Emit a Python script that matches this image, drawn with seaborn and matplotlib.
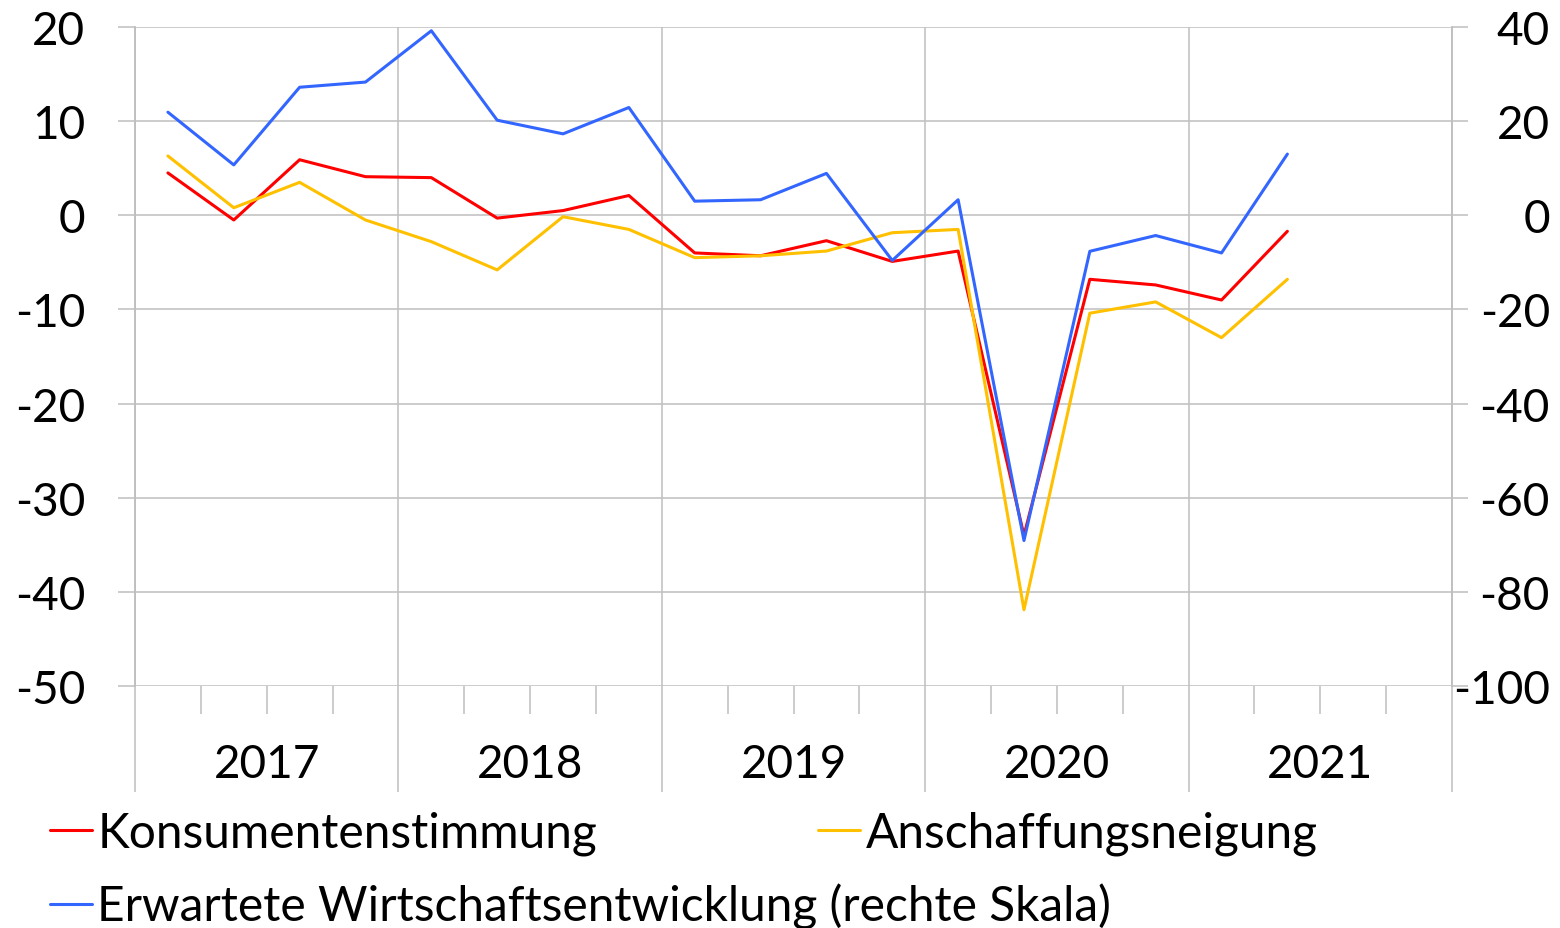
import numpy as np
import pandas as pd
import seaborn as sns
import matplotlib
matplotlib.use("Agg")
import matplotlib.pyplot as plt
from matplotlib.lines import Line2D

# quarterly values 2017Q1 - 2021Q2
quarters = [f"{y}Q{q}" for y in range(2017, 2022) for q in range(1, 5)][:18]
konsum = [4.5, -0.5, 5.9, 4.1, 4.0, -0.3, 0.5, 2.1, -4.0, -4.3, -2.7, -4.9, -3.8, -34.0, -6.8, -7.4, -9.0, -1.7]
anschaff = [6.3, 0.8, 3.5, -0.5, -2.8, -5.8, -0.15, -1.5, -4.5, -4.3, -3.8, -1.85, -1.5, -41.9, -10.4, -9.2, -13.0, -6.8]
wirtschaft = [21.9, 10.7, 27.2, 28.3, 39.2, 20.2, 17.3, 22.9, 3.0, 3.3, 8.9, -9.6, 3.3, -69.1, -7.65, -4.3, -8.0, 13.0]
years = ["2017", "2018", "2019", "2020", "2021"]

lab_k = "Konsumentenstimmung"
lab_a = "Anschaffungsneigung"
lab_w = "Erwartete Wirtschaftsentwicklung (rechte Skala)"

df = pd.DataFrame({"quarter": quarters, "konsum": konsum,
                   "anschaff": anschaff, "wirtschaft": wirtschaft})
df["pos"] = np.arange(len(df)) + 0.5  # centre of each quarter slot

sns.set_theme(style="white")
plt.rcParams['font.family'] = ['Lato', 'DejaVu Sans']
plt.rcParams['axes.unicode_minus'] = False
plt.rcParams['text.color'] = 'black'
plt.rcParams['xtick.color'] = 'black'
plt.rcParams['ytick.color'] = 'black'

RED = "#FF0000"
YEL = "#FFC000"
BLU = "#3366FF"
GRID = "#BFBFBF"
FS = 33
FS_LEG = 34.5
LW = 2.2

fig = plt.figure(figsize=(15.6, 9.29), dpi=100)
ax = fig.add_axes([135/1560, 1-687/929, (1452-135)/1560, (687-28)/929])
ax2 = ax.twinx()

sns.lineplot(data=df, x="pos", y="konsum", ax=ax, color=RED, lw=LW)
sns.lineplot(data=df, x="pos", y="anschaff", ax=ax, color=YEL, lw=LW)
sns.lineplot(data=df, x="pos", y="wirtschaft", ax=ax2, color=BLU, lw=LW)

ax.set_xlim(0, 20)
ax.set_ylim(-50, 20)
ax2.set_ylim(-100, 40)
ax.set_yticks(np.arange(-50, 21, 10))
ax2.set_yticks(np.arange(-100, 41, 20))

# x axis: year boundaries as long major ticks, quarters as minor ticks
ax.set_xticks(np.arange(0, 21, 4))
ax.set_xticklabels([])
minor = [p for p in range(1, 20) if p % 4 != 0]
ax.set_xticks(minor, minor=True)
ax.set_xticklabels([years[(p - 2) // 4] if p % 4 == 2 else "" for p in minor], minor=True)
ax.tick_params(axis="x", which="major", bottom=True, length=76, width=1.1, color=GRID, direction="out")
ax.tick_params(axis="x", which="minor", bottom=True, length=20, width=1.1, color=GRID, direction="out",
               pad=21, labelsize=FS, labelcolor="black")
ax.tick_params(axis="y", left=True, length=12, width=1.1, color=GRID, pad=24, labelsize=FS,
               labelcolor="black")
ax2.tick_params(axis="y", right=True, length=11.5, width=1.1, color=GRID, pad=59, labelsize=FS,
                labelcolor="black")
for t in ax2.get_yticklabels():
    t.set_horizontalalignment("right")

ax.grid(True, which="major", axis="both", color=GRID, lw=1.1)
ax2.grid(False)
ax.set_xlabel("")
ax.set_ylabel("")
ax2.set_ylabel("")
for a in (ax, ax2):
    for s in ("top", "bottom"):
        a.spines[s].set_visible(False)
    for s in ("left", "right"):
        a.spines[s].set_color(GRID)
        a.spines[s].set_linewidth(1.1)

# legend entries placed like the original (two on first row, one on second)
entries = [(lab_k, RED, 50, 834), (lab_a, YEL, 818, 834), (lab_w, BLU, 50, 907)]
for lab, col, px, py in entries:
    h = Line2D([], [], color=col, lw=LW)
    fig.legend([h], [lab], loc="center left", bbox_to_anchor=(px/1560, 1-py/929),
               frameon=False, fontsize=FS_LEG, handlelength=0.88, handletextpad=0.11,
               borderpad=0, borderaxespad=0)

fig.savefig("out.png", dpi=100)
